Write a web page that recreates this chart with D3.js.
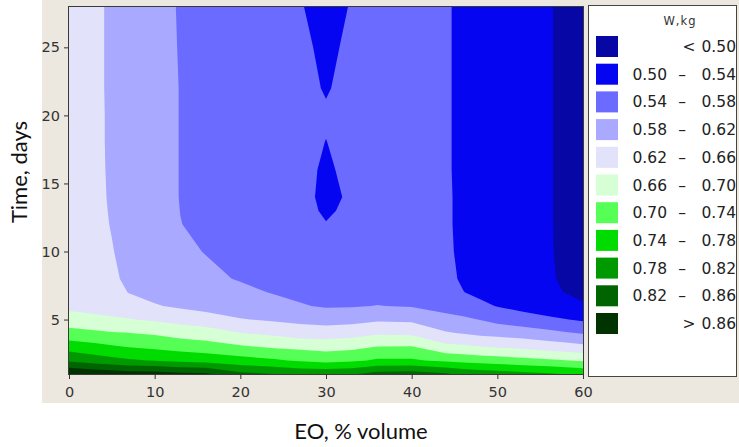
<!DOCTYPE html>
<html>
<head>
<meta charset="utf-8">
<script src="https://cdn.jsdelivr.net/npm/d3@7"></script>
<style>
  body { margin: 0; background: #fff; }
  svg { display: block; }
  .tick text { font-family: "DejaVu Sans", Verdana, sans-serif; font-size: 14.5px; fill: #333; }
  .tick line { stroke: #333; }
</style>
</head>
<body>
<svg id="chart" width="739" height="447"></svg>
<script>
// grid columns (EO, % volume) and rows (time, days)
var eoValues = [0, 3, 5, 7, 10, 13, 16, 20, 24, 27, 30, 33, 36, 40, 44, 46, 48, 50, 53, 56, 58, 60];
var dayValues = [1, 2, 3, 4, 5, 6, 7, 8, 10, 12, 13, 14, 16, 18, 20, 22, 25, 28];

// W, kg: one row per EO value, one entry per day in dayValues
var wKg = [
  [0.900, 0.813, 0.763, 0.713, 0.680, 0.648, 0.645, 0.645, 0.645, 0.645, 0.645, 0.645, 0.645, 0.645, 0.645, 0.645, 0.645, 0.645], // 0
  [0.890, 0.800, 0.752, 0.708, 0.672, 0.642, 0.635, 0.633, 0.632, 0.631, 0.631, 0.631, 0.630, 0.630, 0.630, 0.630, 0.630, 0.630], // 3
  [0.885, 0.792, 0.745, 0.703, 0.667, 0.638, 0.630, 0.627, 0.622, 0.618, 0.6165, 0.615, 0.614, 0.613, 0.613, 0.612, 0.612, 0.612], // 5
  [0.880, 0.785, 0.738, 0.701, 0.662, 0.634, 0.619, 0.612, 0.607, 0.605, 0.6045, 0.604, 0.603, 0.603, 0.603, 0.603, 0.603, 0.603], // 7
  [0.878, 0.778, 0.732, 0.695, 0.655, 0.623, 0.608, 0.601, 0.597, 0.595, 0.5945, 0.594, 0.594, 0.594, 0.594, 0.594, 0.594, 0.594], // 10
  [0.870, 0.770, 0.724, 0.684, 0.646, 0.614, 0.598, 0.592, 0.585, 0.5805, 0.5797, 0.579, 0.579, 0.579, 0.579, 0.579, 0.578, 0.577], // 13
  [0.866, 0.764, 0.718, 0.678, 0.638, 0.606, 0.594, 0.586, 0.579, 0.574, 0.5725, 0.571, 0.570, 0.570, 0.570, 0.570, 0.570, 0.569], // 16
  [0.830, 0.755, 0.705, 0.661, 0.622, 0.600, 0.587, 0.578, 0.570, 0.566, 0.565, 0.564, 0.563, 0.563, 0.563, 0.563, 0.562, 0.562], // 20
  [0.820, 0.745, 0.695, 0.652, 0.615, 0.591, 0.578, 0.567, 0.558, 0.555, 0.5545, 0.554, 0.553, 0.553, 0.553, 0.553, 0.552, 0.552], // 24
  [0.810, 0.735, 0.690, 0.640, 0.610, 0.583, 0.571, 0.562, 0.551, 0.549, 0.5485, 0.548, 0.548, 0.549, 0.549, 0.548, 0.5455, 0.5415], // 27
  [0.810, 0.728, 0.685, 0.640, 0.605, 0.576, 0.563, 0.556, 0.546, 0.541, 0.5365, 0.534, 0.536, 0.5395, 0.543, 0.538, 0.5345, 0.531], // 30
  [0.815, 0.733, 0.690, 0.645, 0.607, 0.577, 0.564, 0.557, 0.550, 0.547, 0.5455, 0.5435, 0.547, 0.549, 0.549, 0.548, 0.545, 0.5415], // 33
  [0.835, 0.745, 0.701, 0.655, 0.614, 0.581, 0.567, 0.560, 0.554, 0.553, 0.5525, 0.552, 0.552, 0.552, 0.552, 0.552, 0.552, 0.552], // 36
  [0.840, 0.745, 0.702, 0.652, 0.612, 0.577, 0.565, 0.558, 0.554, 0.552, 0.552, 0.552, 0.552, 0.552, 0.552, 0.552, 0.552, 0.552], // 40
  [0.825, 0.732, 0.670, 0.624, 0.590, 0.568, 0.556, 0.550, 0.546, 0.545, 0.545, 0.545, 0.544, 0.544, 0.544, 0.544, 0.544, 0.544], // 44
  [0.810, 0.728, 0.667, 0.618, 0.586, 0.562, 0.541, 0.535, 0.533, 0.532, 0.532, 0.532, 0.532, 0.532, 0.532, 0.532, 0.532, 0.532], // 46
  [0.805, 0.722, 0.661, 0.610, 0.579, 0.550, 0.530, 0.526, 0.524, 0.523, 0.523, 0.523, 0.523, 0.523, 0.523, 0.523, 0.523, 0.523], // 48
  [0.800, 0.718, 0.657, 0.607, 0.568, 0.538, 0.525, 0.521, 0.520, 0.520, 0.520, 0.520, 0.520, 0.520, 0.520, 0.520, 0.520, 0.520], // 50
  [0.792, 0.712, 0.650, 0.600, 0.558, 0.527, 0.514, 0.511, 0.510, 0.510, 0.510, 0.510, 0.510, 0.510, 0.510, 0.510, 0.510, 0.510], // 53
  [0.785, 0.705, 0.642, 0.591, 0.548, 0.515, 0.505, 0.503, 0.502, 0.502, 0.502, 0.502, 0.502, 0.502, 0.502, 0.502, 0.502, 0.502], // 56
  [0.778, 0.701, 0.636, 0.584, 0.541, 0.510, 0.499, 0.496, 0.495, 0.494, 0.494, 0.494, 0.494, 0.494, 0.494, 0.494, 0.494, 0.494], // 58
  [0.772, 0.695, 0.630, 0.578, 0.535, 0.503, 0.494, 0.490, 0.489, 0.488, 0.488, 0.488, 0.488, 0.488, 0.488, 0.488, 0.488, 0.488]  // 60
];

var levels = [0.50, 0.54, 0.58, 0.62, 0.66, 0.70, 0.74, 0.78, 0.82, 0.86];
var bandColors = ["#0707a6", "#0505f2", "#6b6bff", "#a9a9ff", "#e2e2fa", "#d6ffd6",
                  "#55ff55", "#00dc00", "#009a00", "#006400", "#003300"];
var bandLabels = [["<", "0.50"], ["0.50", "0.54"], ["0.54", "0.58"], ["0.58", "0.62"],
                  ["0.62", "0.66"], ["0.66", "0.70"], ["0.70", "0.74"], ["0.74", "0.78"],
                  ["0.78", "0.82"], ["0.82", "0.86"], [">", "0.86"]];
var xTicks = [0, 10, 20, 30, 40, 50, 60];
var yTicks = [5, 10, 15, 20, 25];

var svg = d3.select("#chart");

var x = d3.scaleLinear().domain([0, 60]).range([69, 583]);
var y = d3.scaleLinear().domain([1, 28]).range([374, 6.5]);

// beige panel behind the plot
svg.append("rect")
    .attr("x", 42).attr("y", 0)
    .attr("width", 697).attr("height", 403)
    .attr("fill", "#ece8df");

// flatten the grid for d3.contours (row = day, column = EO)
var nx = eoValues.length, ny = dayValues.length;
var grid = new Array(nx * ny);
for (var j = 0; j < ny; j++) {
    for (var i = 0; i < nx; i++) grid[j * nx + i] = wKg[i][j];
}

// grid index -> data value (grid is not evenly spaced)
var ix = d3.scaleLinear().domain(d3.range(nx)).range(eoValues).clamp(true);
var iy = d3.scaleLinear().domain(d3.range(ny)).range(dayValues).clamp(true);

var path = d3.geoPath(d3.geoTransform({
    point: function(gx, gy) {
        this.stream.point(x(ix(gx - 0.5)), y(iy(gy - 0.5)));
    }
}));

var contours = d3.contours().size([nx, ny]).thresholds(levels)(grid);

svg.append("clipPath").attr("id", "plotClip")
  .append("rect")
    .attr("x", x(0)).attr("y", y(28))
    .attr("width", x(60) - x(0)).attr("height", y(1) - y(28));

var plot = svg.append("g").attr("clip-path", "url(#plotClip)");

plot.append("rect")
    .attr("x", x(0)).attr("y", y(28))
    .attr("width", x(60) - x(0)).attr("height", y(1) - y(28))
    .attr("fill", bandColors[0]);

plot.selectAll("path.band")
    .data(contours)
    .enter().append("path")
    .attr("class", "band")
    .attr("d", path)
    .attr("fill", function(d, i) { return bandColors[i + 1]; });

// frame
svg.append("rect")
    .attr("x", 68.5).attr("y", 6.5)
    .attr("width", 515).attr("height", 368)
    .attr("fill", "none")
    .attr("stroke", "#3a3a3a");

// axes
var xAxis = svg.append("g")
    .attr("transform", "translate(0,374)")
    .call(d3.axisBottom(x).tickValues(xTicks).tickSize(5).tickPadding(8));
xAxis.select(".domain").remove();

var yAxis = svg.append("g")
    .attr("transform", "translate(69,0)")
    .call(d3.axisLeft(y).tickValues(yTicks).tickSize(5).tickPadding(4));
yAxis.select(".domain").remove();

// axis titles
svg.append("text")
    .attr("x", 361).attr("y", 439)
    .attr("text-anchor", "middle")
    .style("font-family", "Lato, 'Open Sans', sans-serif")
    .style("font-size", "22px")
    .style("fill", "#111")
    .text("EO, % volume");

svg.append("text")
    .attr("transform", "translate(27,172) rotate(-90)")
    .attr("text-anchor", "middle")
    .style("font-family", "Lato, 'Open Sans', sans-serif")
    .style("font-size", "22px")
    .style("fill", "#111")
    .text("Time, days");

// legend
var legend = svg.append("g");
legend.append("rect")
    .attr("x", 588.5).attr("y", 5.5)
    .attr("width", 148).attr("height", 371)
    .attr("fill", "#fff")
    .attr("stroke", "#444");

legend.append("text")
    .attr("x", 680).attr("y", 25)
    .attr("text-anchor", "middle")
    .style("font-family", "'DejaVu Sans', Verdana, sans-serif")
    .style("font-size", "11.5px")
    .style("letter-spacing", "1px")
    .style("fill", "#333")
    .text("W,kg");

var rows = legend.selectAll("g.row")
    .data(bandLabels)
    .enter().append("g")
    .attr("class", "row")
    .attr("transform", function(d, i) { return "translate(0," + (36 + i * 27.7) + ")"; });

rows.append("rect")
    .attr("x", 596).attr("y", 0)
    .attr("width", 22).attr("height", 21)
    .attr("fill", function(d, i) { return bandColors[i]; });

var labelStyle = function(sel) {
    sel.style("font-family", "'DejaVu Sans', Verdana, sans-serif")
        .style("font-size", "15.5px")
        .style("fill", "#222");
};

rows.append("text")
    .attr("x", function(d) { return d[0].length === 1 ? 689 : 667; })
    .attr("y", 16)
    .attr("text-anchor", function(d) { return d[0].length === 1 ? "middle" : "end"; })
    .call(labelStyle)
    .text(function(d) { return d[0]; });

rows.filter(function(d) { return d[0].length > 1; })
  .append("text")
    .attr("x", 682).attr("y", 16)
    .attr("text-anchor", "middle")
    .call(labelStyle)
    .text("\u2013");

rows.append("text")
    .attr("x", 736).attr("y", 16)
    .attr("text-anchor", "end")
    .call(labelStyle)
    .text(function(d) { return d[1]; });
</script>
</body>
</html>
